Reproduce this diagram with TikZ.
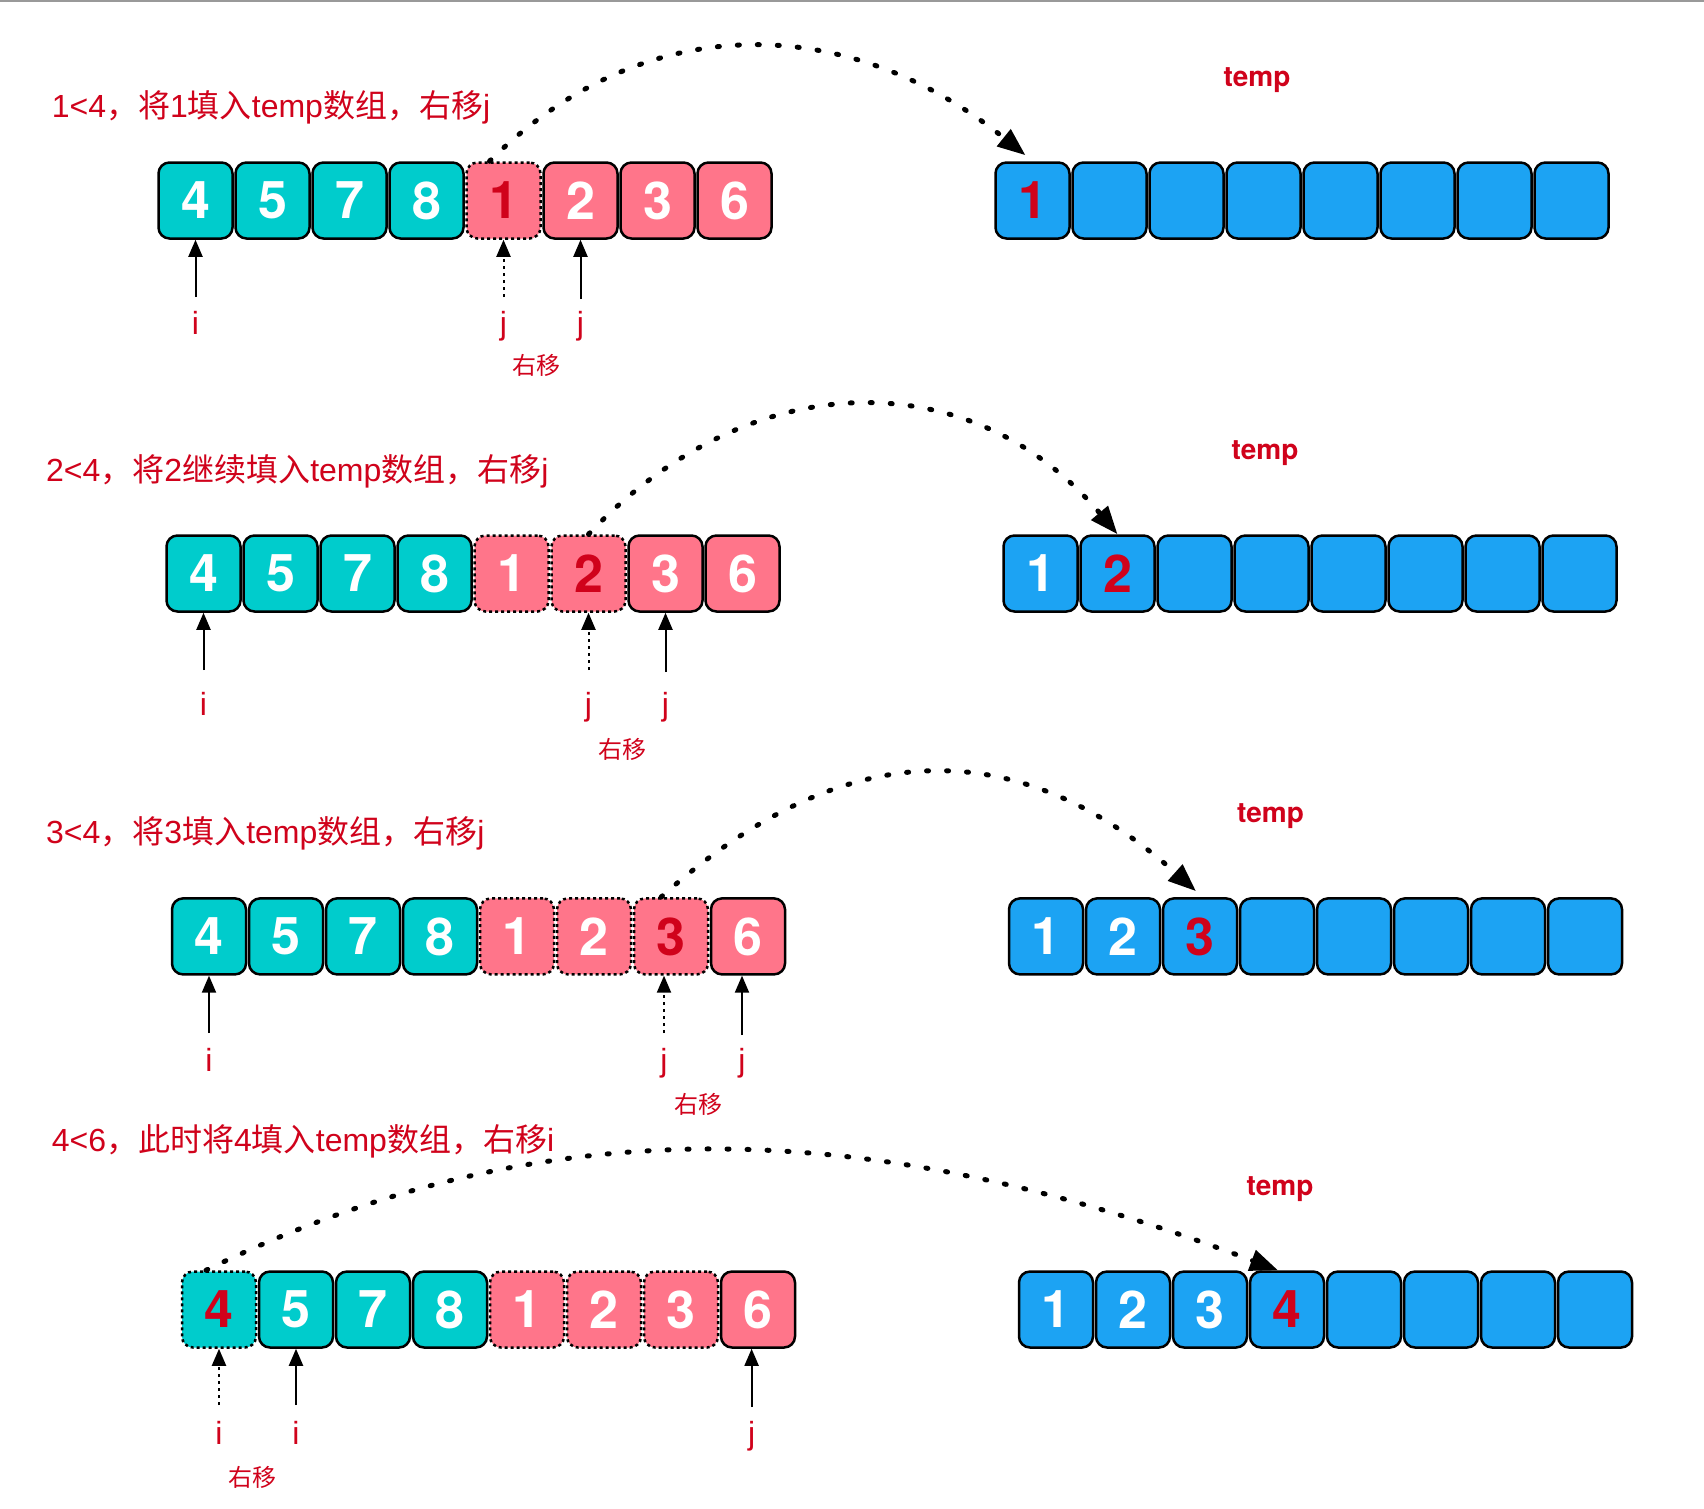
\documentclass[tikz,border=0pt]{standalone}
\usepackage{fontspec}
\setmainfont{TeX Gyre Heros}
\newfontfamily\hv{TeX Gyre Heros}
\newfontfamily\ar{Liberation Sans}
\newfontfamily\cjk{Noto Sans CJK SC}
\usetikzlibrary{arrows.meta}
\definecolor{colteal}{HTML}{00CCCC}
\definecolor{colpink}{HTML}{FF758A}
\definecolor{colblue}{HTML}{1CA3F3}
\definecolor{colred}{HTML}{D0021B}
\tikzset{
  cell/.style={draw=black, line width=2.5pt, rounded corners=11pt, minimum width=74pt,
    minimum height=76pt, inner sep=0pt, text=white, font=\hv\bfseries\fontsize{52}{52}\selectfont},
  ctl/.style={cell, fill=colteal},
  cpk/.style={cell, fill=colpink},
  cbl/.style={cell, fill=colblue},
  gone/.style={dash pattern=on 3pt off 3pt},
  hot/.style={text=colred},
  ctlgr/.style={ctl, gone, hot},
  cpkg/.style={cpk, gone},
  cpkgr/.style={cpk, gone, hot},
  cblr/.style={cbl, hot},
  ptr/.style={line width=2pt, -{Triangle[length=17pt,width=14pt]}},
  ptrd/.style={ptr, dash pattern=on 3pt off 4pt},
  lbl/.style={anchor=base, inner sep=0pt, text=colred, font=\ar\fontsize{32}{32}\selectfont},
  mv/.style={anchor=base, inner sep=0pt, text=colred, font=\cjk\fontsize{24}{24}\selectfont},
  ttl/.style={anchor=base west, inner sep=0pt, text=colred, font=\ar\fontsize{32}{32}\selectfont},
  tmp/.style={anchor=base, inner sep=0pt, text=colred, font=\hv\bfseries\fontsize{28}{28}\selectfont},
  flow/.style={line width=5pt, line cap=round, dash pattern=on 2pt off 18pt,
    -{Triangle[length=28pt,width=21pt]}},
}
\begin{document}
\begin{tikzpicture}[x=1pt,y=-1pt]
\useasboundingbox (0,0) rectangle (1704,1508);
\fill[white] (0,0) rectangle (1704,1508);
\draw[black!40, line width=2pt] (0,1) -- (1704,1);

% ---------- row 1 ----------
\node[ttl] (h1) at (51.6,117) {1<4{\cjk ，将}1{\cjk 填入}temp{\cjk 数组，右移}j};
\foreach \d/\s [count=\k from 0] in {4/ctl,5/ctl,7/ctl,8/ctl,1/cpkgr,2/cpk,3/cpk,6/cpk}
  \node[\s] (r1c\k) at ({195.5+77*\k},200.5) {\d};
\node[tmp] (tp1) at (1257,86) {temp};
\foreach \d/\s [count=\k from 0] in {1/cblr,{}/cbl,{}/cbl,{}/cbl,{}/cbl,{}/cbl,{}/cbl,{}/cbl}
  \node[\s] (t1c\k) at ({1032.5+77*\k},200.5) {\d};
\coordinate (a1i) at (195.5,297);
\coordinate (a1j) at (503.5,297);
\coordinate (a1k) at (580.5,299);
\draw[ptr] (a1i) -- (r1c0.south);
\draw[ptrd] (a1j) -- (r1c4.south);
\draw[ptr] (a1k) -- (r1c5.south);
\node[lbl] (l1i) at (195.5,334) {i};
\node[lbl] (l1j) at (503.5,334) {j};
\node[lbl] (l1k) at (580.5,334) {j};
\node[mv] (m1) at (536,374) {右移};
\draw[flow] ([xshift=-14pt]r1c4.north) .. controls +(153,-152) and +(-180,-145) .. ([xshift=-7pt,yshift=6pt]t1c0.north);

% ---------- row 2 ----------
\node[ttl] (h2) at (46,481.7) {2<4{\cjk ，将}2{\cjk 继续填入}temp{\cjk 数组，右移}j};
\foreach \d/\s [count=\k from 0] in {4/ctl,5/ctl,7/ctl,8/ctl,1/cpkg,2/cpkgr,3/cpk,6/cpk}
  \node[\s] (r2c\k) at ({203.5+77*\k},573.5) {\d};
\node[tmp] (tp2) at (1265,459) {temp};
\foreach \d/\s [count=\k from 0] in {1/cbl,2/cblr,{}/cbl,{}/cbl,{}/cbl,{}/cbl,{}/cbl,{}/cbl}
  \node[\s] (t2c\k) at ({1040.5+77*\k},573.5) {\d};
\coordinate (a2i) at (203.5,670);
\coordinate (a2j) at (588.5,670);
\coordinate (a2k) at (665.5,672);
\draw[ptr] (a2i) -- (r2c0.south);
\draw[ptrd] (a2j) -- (r2c5.south);
\draw[ptr] (a2k) -- (r2c6.south);
\node[lbl] (l2i) at (203.5,715) {i};
\node[lbl] (l2j) at (588.5,715) {j};
\node[lbl] (l2k) at (665.5,715) {j};
\node[mv] (m2) at (622,758) {右移};
\draw[flow] (r2c5.north) .. controls +(163,-172) and +(-145,-172) .. (t2c1.north);

% ---------- row 3 ----------
\node[ttl] (h3) at (46,843) {3<4{\cjk ，将}3{\cjk 填入}temp{\cjk 数组，右移}j};
\foreach \d/\s [count=\k from 0] in {4/ctl,5/ctl,7/ctl,8/ctl,1/cpkg,2/cpkg,3/cpkgr,6/cpk}
  \node[\s] (r3c\k) at ({209+77*\k},936.4) {\d};
\node[tmp] (tp3) at (1270.5,822) {temp};
\foreach \d/\s [count=\k from 0] in {1/cbl,2/cbl,3/cblr,{}/cbl,{}/cbl,{}/cbl,{}/cbl,{}/cbl}
  \node[\s] (t3c\k) at ({1046+77*\k},936.4) {\d};
\coordinate (a3i) at (209,1033);
\coordinate (a3j) at (664,1033);
\coordinate (a3k) at (742,1035);
\draw[ptr] (a3i) -- (r3c0.south);
\draw[ptrd] (a3j) -- (a3j |- r3c6.south);
\draw[ptr] (a3k) -- (a3k |- r3c7.south);
\node[lbl] (l3i) at (209,1071) {i};
\node[lbl] (l3j) at (664,1071) {j};
\node[lbl] (l3k) at (742,1071) {j};
\node[mv] (m3) at (698,1113) {右移};
\draw[flow] ([xshift=-10pt]r3c6.north) .. controls +(184,-165) and +(-177,-158) .. ([xshift=-4pt,yshift=6pt]t3c2.north);

% ---------- row 4 ----------
\node[ttl] (h4) at (51.6,1151.7) {4<6{\cjk ，此时将}4{\cjk 填入}temp{\cjk 数组，右移}i};
\foreach \d/\s [count=\k from 0] in {4/ctlgr,5/ctl,7/ctl,8/ctl,1/cpkg,2/cpkg,3/cpkg,6/cpk}
  \node[\s] (r4c\k) at ({219+77*\k},1309.5) {\d};
\node[tmp] (tp4) at (1280,1195) {temp};
\foreach \d/\s [count=\k from 0] in {1/cbl,2/cbl,3/cbl,4/cblr,{}/cbl,{}/cbl,{}/cbl,{}/cbl}
  \node[\s] (t4c\k) at ({1056+77*\k},1309.5) {\d};
\coordinate (a4i) at (219,1405);
\coordinate (a4j) at (296,1405);
\coordinate (a4k) at (751.6,1407);
\draw[ptrd] (a4i) -- (r4c0.south);
\draw[ptr] (a4j) -- (r4c1.south);
\draw[ptr] (a4k) -- (a4k |- r4c7.south);
\node[lbl] (l4i) at (219,1444) {i};
\node[lbl] (l4j) at (296,1444) {i};
\node[lbl] (l4k) at (751.6,1444) {j};
\node[mv] (m4) at (252.7,1486) {右移};
\draw[flow] ([xshift=-13pt]r4c0.north) .. controls +(360,-176) and +(-380,-144) .. ([xshift=-9pt]t4c3.north);
\end{tikzpicture}
\end{document}
